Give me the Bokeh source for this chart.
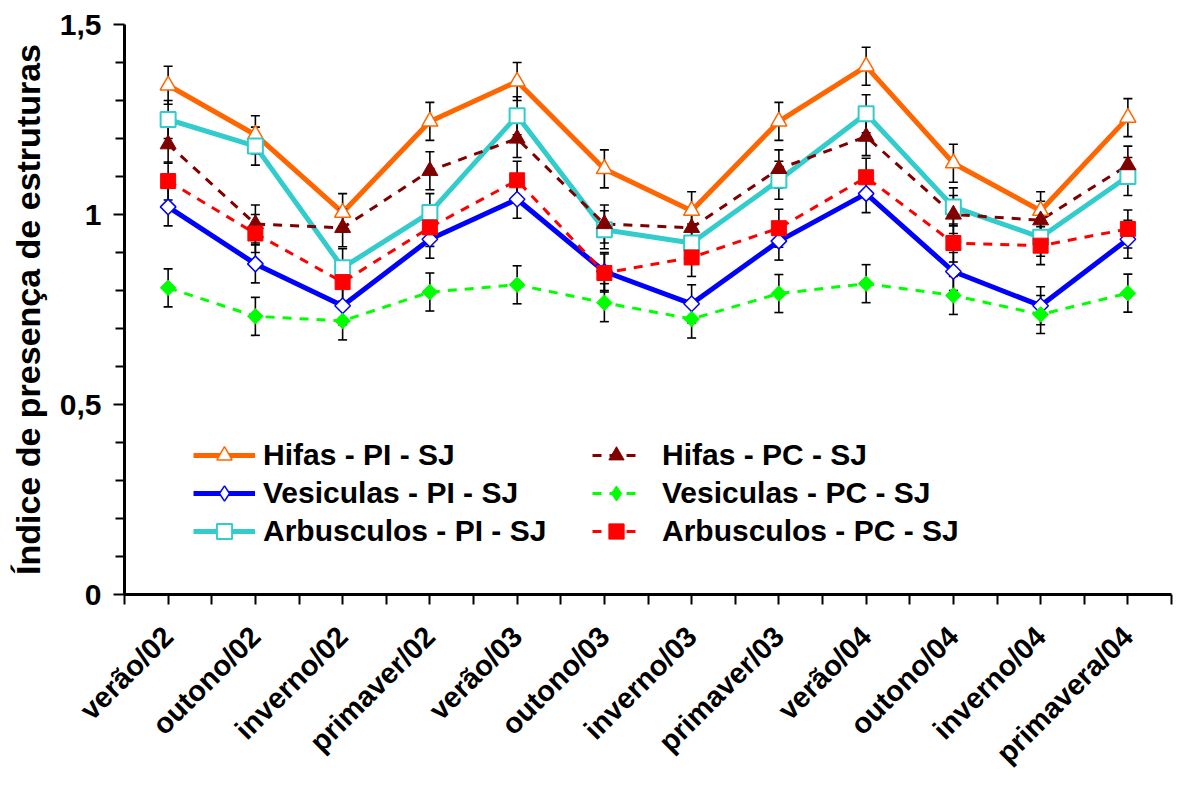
import math
from bokeh.plotting import figure
from bokeh.models import Range1d, FixedTicker, Legend, LegendItem
from bokeh.embed import file_html
from bokeh.resources import INLINE

categories = ["verão/02", "outono/02", "inverno/02", "primaver/02", "verão/03", "outono/03",
              "inverno/03", "primaver/03", "verão/04", "outono/04", "inverno/04", "primavera/04"]

hifas_pi = [1.34, 1.21, 1.005, 1.245, 1.35, 1.12, 1.01, 1.245, 1.39, 1.135, 1.01, 1.255]
vesic_pi = [1.02, 0.87, 0.76, 0.935, 1.04, 0.85, 0.765, 0.93, 1.055, 0.85, 0.76, 0.935]
arbus_pi = [1.25, 1.18, 0.86, 1.005, 1.26, 0.96, 0.925, 1.09, 1.265, 1.02, 0.94, 1.10]
hifas_pc = [1.185, 0.975, 0.965, 1.115, 1.20, 0.975, 0.965, 1.12, 1.205, 1.0, 0.985, 1.13]
vesic_pc = [0.807, 0.732, 0.72, 0.796, 0.815, 0.768, 0.725, 0.792, 0.818, 0.787, 0.737, 0.793]
arbus_pc = [1.088, 0.95, 0.822, 0.966, 1.09, 0.846, 0.887, 0.964, 1.098, 0.925, 0.918, 0.962]

err_hifas_pi = [0.05, 0.05, 0.05, 0.05, 0.05, 0.05, 0.05, 0.05, 0.05, 0.05, 0.05, 0.05]
err_vesic_pi = [0.05, 0.05, 0.05, 0.05, 0.05, 0.05, 0.05, 0.05, 0.05, 0.05, 0.05, 0.05]
err_arbus_pi = [0.05, 0.05, 0.05, 0.05, 0.05, 0.05, 0.05, 0.05, 0.05, 0.05, 0.05, 0.05]
err_hifas_pc = [0.05, 0.05, 0.05, 0.05, 0.05, 0.05, 0.05, 0.05, 0.05, 0.05, 0.05, 0.05]
err_vesic_pc = [0.05, 0.05, 0.05, 0.05, 0.05, 0.05, 0.05, 0.05, 0.05, 0.05, 0.05, 0.05]
err_arbus_pc = [0.05, 0.05, 0.05, 0.05, 0.05, 0.05, 0.05, 0.05, 0.05, 0.05, 0.05, 0.05]

y_ticks = [0, 0.5, 1, 1.5]
y_tick_labels = ["0", "0,5", "1", "1,5"]
y_minor = [0.1, 0.2, 0.3, 0.4, 0.6, 0.7, 0.8, 0.9, 1.1, 1.2, 1.3, 1.4]

FONT = "Liberation Sans"

n = len(categories)
xs = [i + 0.5 for i in range(n)]

p = figure(width=1177, height=785, output_backend="svg", toolbar_location=None,
           x_range=Range1d(0, n), y_range=Range1d(0, 1.5),
           min_border_left=124, min_border_right=6, min_border_top=24, min_border_bottom=191)
p.outline_line_color = None
p.xgrid.visible = False
p.ygrid.visible = False
p.background_fill_color = "white"

# x axis
p.xaxis.ticker = FixedTicker(ticks=xs, minor_ticks=[float(i) for i in range(n + 1)])
p.xaxis.major_label_overrides = {x: c for x, c in zip(xs, categories)}
p.xaxis.major_label_orientation = math.pi / 4
p.xaxis.major_label_text_font = FONT
p.xaxis.major_label_text_font_style = "bold"
p.xaxis.major_label_text_font_size = "29px"
p.xaxis.major_label_text_color = "black"
p.xaxis.major_label_standoff = 27
p.xaxis.axis_line_width = 3
p.xaxis.axis_line_color = "black"
p.xaxis.major_tick_out = 10
p.xaxis.major_tick_in = 0
p.xaxis.minor_tick_out = 10
p.xaxis.minor_tick_in = 0
p.xaxis.major_tick_line_width = 2
p.xaxis.minor_tick_line_width = 2

# y axis
p.yaxis.ticker = FixedTicker(ticks=y_ticks, minor_ticks=y_minor)
p.yaxis.major_label_overrides = {t: l for t, l in zip(y_ticks, y_tick_labels)}
p.yaxis.major_label_text_font = FONT
p.yaxis.major_label_text_font_style = "bold"
p.yaxis.major_label_text_font_size = "30px"
p.yaxis.major_label_text_color = "black"
p.yaxis.major_label_standoff = 12
p.yaxis.axis_line_width = 3
p.yaxis.axis_line_color = "black"
p.yaxis.major_tick_out = 11
p.yaxis.major_tick_in = 0
p.yaxis.minor_tick_out = 9
p.yaxis.minor_tick_in = 0
p.yaxis.major_tick_line_width = 2
p.yaxis.minor_tick_line_width = 2
p.yaxis.axis_label = "Índice de presença de estruturas"
p.yaxis.axis_label_text_font = FONT
p.yaxis.axis_label_text_font_style = "bold"
p.yaxis.axis_label_text_font_size = "34px"
p.yaxis.axis_label_text_color = "black"
p.yaxis.axis_label_standoff = 10

series = [
    ("Hifas - PI - SJ", hifas_pi, err_hifas_pi, "#FF6600", "solid", 5, "triangle", 0.0, 16, "white", 1.5),
    ("Vesiculas - PI - SJ", vesic_pi, err_vesic_pi, "#0000FF", "solid", 5, "square", math.pi / 4, 11, "white", 1.5),
    ("Arbusculos - PI - SJ", arbus_pi, err_arbus_pi, "#33CCCC", "solid", 5, "square", 0.0, 15, "white", 2),
    ("Hifas - PC - SJ", hifas_pc, err_hifas_pc, "#800000", "9 8", 3, "triangle", 0.0, 16, "#800000", 1),
    ("Vesiculas - PC - SJ", vesic_pc, err_vesic_pc, "#00FF00", "9 8", 3, "square", math.pi / 4, 11, "#00FF00", 1),
    ("Arbusculos - PC - SJ", arbus_pc, err_arbus_pc, "#FF0000", "9 8", 3, "square", 0.0, 15, "#FF0000", 1),
]

line_r = []
for name, ys, err, color, dash, lw, marker, ang, size, fill, mlw in series:
    r = p.line(xs, ys, line_color=color, line_width=lw, line_dash=dash)
    line_r.append(r)

for name, ys, err, color, dash, lw, marker, ang, size, fill, mlw in series:
    lo = [y - e for y, e in zip(ys, err)]
    hi = [y + e for y, e in zip(ys, err)]
    p.segment(xs, lo, xs, hi, line_color="black", line_width=1.6)
    p.scatter(xs, lo, marker="dash", size=9, line_color="black", line_width=1.6)
    p.scatter(xs, hi, marker="dash", size=9, line_color="black", line_width=1.6)

mark_r = []
legend_mark_r = []
for name, ys, err, color, dash, lw, marker, ang, size, fill, mlw in series:
    r = p.scatter(xs, ys, marker=marker, angle=ang, size=size, line_color=color,
                  fill_color=fill, line_width=mlw)
    mark_r.append(r)
    if ang != 0.0:
        # legend glyphs are drawn unrotated: a diamond marker (not drawn in the plot) stands in
        lr = p.scatter(x=[xs[0]], y=[float("nan")], marker="diamond", size=size, line_color=color,
                       fill_color=fill, line_width=mlw)
        legend_mark_r.append(lr)
    else:
        legend_mark_r.append(r)

items = [LegendItem(label=s[0], renderers=[line_r[i], legend_mark_r[i]]) for i, s in enumerate(series)]

def make_legend(its, loc, gw, standoff):
    lg = Legend(items=its, location=loc, orientation="vertical")
    lg.label_text_font = FONT
    lg.label_text_font_style = "bold"
    lg.label_text_font_size = "30px"
    lg.label_text_color = "black"
    lg.glyph_width = gw
    lg.glyph_height = 38
    lg.label_height = 38
    lg.spacing = 0
    lg.padding = 0
    lg.margin = 0
    lg.label_standoff = standoff
    lg.background_fill_alpha = 0
    lg.border_line_color = None
    return lg

p.add_layout(make_legend(items[:3], (69, 44), 62, 8), "center")
p.add_layout(make_legend(items[3:], (468, 44), 48, 22), "center")

open("out.html", "w").write(file_html(p, INLINE))
